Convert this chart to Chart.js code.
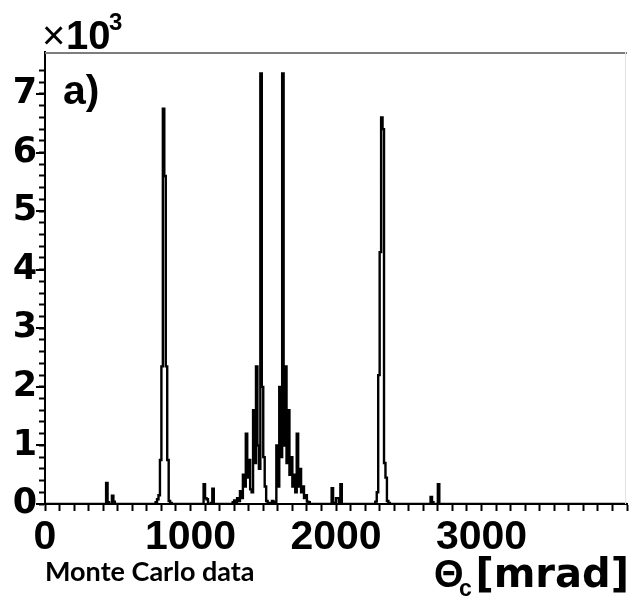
<!DOCTYPE html>
<html>
<head>
<meta charset="utf-8">
<title>Theta_c histogram</title>
<script src="https://cdn.jsdelivr.net/npm/chart.js@4.4.1/dist/chart.umd.min.js"></script>
<style>
  html, body { margin: 0; padding: 0; background: #fff; }
  #wrap { width: 629px; height: 597px; }
</style>
</head>
<body>
<div id="wrap"><canvas id="histChart" width="629" height="597"></canvas></div>
<script>
// ---------- Data (counts per 10 mrad bin) ----------
const binWidth = 10;
const xMax = 4000;
const yMax = 7717;

const sideLeftStart = 410;
const sideLeft = [0, 360, 30, 0, 0, 140, 40, 0];

const peakAStart = 760;
const peakA = [30, 80, 150, 750, 2350, 6750, 5600, 2350, 750, 50, 20, 0];

const sideMidLeftStart = 1080;
const sideMidLeft = [0, 340, 100, 80, 0, 0, 20, 260, 0];

const centralStart = 1290;
const central = [
  30, 60, 20, 100, 50, 220, 100, 500, 300, 1200,
  450, 750, 250, 200, 1600, 700, 2350, 1000, 600, 7350,
  2000, 800, 300, 50, 20, 10, 20, 50, 20, 30,
  1000, 300, 2000, 800, 7350, 1000, 2350, 700, 1600, 500,
  800, 300, 500, 200, 1200, 300, 600, 200, 300, 100,
  150, 40, 30, 0
];

const sideMidRightStart = 1960;
const sideMidRight = [0, 270, 20, 0, 100, 100, 30, 340, 0];

const peakBStart = 2270;
const peakB = [40, 200, 2200, 4300, 6600, 6400, 700, 450, 50, 20, 0];

const sideRightStart = 2640;
const sideRight = [0, 120, 30, 0, 0, 0, 340, 0];

const xTickStep = 100;
const xLabelStep = 1000;
const yTickStep = 200;
const yLabelStep = 1000;

// ---------- Build the histogram ----------
const counts = new Array(xMax / binWidth).fill(0);

function putCluster(start, values) {
  values.forEach((v, i) => {
    counts[start / binWidth + i] = v;
  });
}

putCluster(sideLeftStart, sideLeft);
putCluster(peakAStart, peakA);
putCluster(sideMidLeftStart, sideMidLeft);
putCluster(centralStart, central);
putCluster(sideMidRightStart, sideMidRight);
putCluster(peakBStart, peakB);
putCluster(sideRightStart, sideRight);

// one point per bin's left edge, step holds until the next edge
const points = counts.map((c, i) => ({ x: i * binWidth, y: c }));
points.push({ x: xMax, y: 0 });

// ---------- Extra drawing: frame, long ticks, texts ----------
const decorPlugin = {
  id: "decor",
  afterDraw(chart) {
    const { ctx, chartArea, scales } = chart;
    const y = scales.y;
    ctx.save();

    // top and right frame
    ctx.strokeStyle = "#7d7d7d";
    ctx.lineWidth = 2;
    ctx.beginPath();
    ctx.moveTo(chartArea.left, chartArea.top + 1);
    ctx.lineTo(chartArea.right, chartArea.top + 1);
    ctx.stroke();
    ctx.strokeStyle = "#e2e2e2";
    ctx.lineWidth = 1;
    ctx.beginPath();
    ctx.moveTo(chartArea.right - 1.5, chartArea.top);
    ctx.lineTo(chartArea.right - 1.5, chartArea.bottom);
    ctx.stroke();

    // longer ticks on the labelled y values
    ctx.strokeStyle = "#000";
    ctx.lineWidth = 2;
    for (let v = 0; v <= yMax; v += yLabelStep) {
      const py = Math.round(y.getPixelForValue(v));
      ctx.beginPath();
      ctx.moveTo(chartArea.left - 9, py);
      ctx.lineTo(chartArea.left, py);
      ctx.stroke();
    }

    ctx.fillStyle = "#000";
    ctx.textBaseline = "alphabetic";
    ctx.textAlign = "left";

    // x10^3 multiplier
    ctx.font = "40px 'Liberation Sans'";
    ctx.fillText("\u00d7", 42, 49);
    ctx.font = "bold 40px 'Liberation Sans'";
    ctx.fillText("10", 66, 49);
    ctx.font = "bold 24px 'Liberation Sans'";
    ctx.fillText("3", 109, 30);

    // panel label
    ctx.font = "bold 41px 'Liberation Sans'";
    ctx.fillText("a)", 63, 104);

    // caption
    ctx.font = "bold 27px Lato";
    ctx.fillText("Monte Carlo data", 45, 581);

    // axis title
    ctx.font = "bold 38px 'Liberation Sans'";
    ctx.fillText("\u0398", 434, 587);
    ctx.font = "bold 23px 'Liberation Sans'";
    ctx.fillText("c", 459, 596);
    ctx.textAlign = "right";
    ctx.font = "bold 40px 'DejaVu Sans'";
    ctx.fillText("[mrad]", 629, 587);

    ctx.restore();
  }
};

// ---------- Chart ----------
const ctx = document.getElementById("histChart").getContext("2d");

new Chart(ctx, {
  type: "line",
  data: {
    datasets: [
      {
        data: points,
        borderColor: "#000",
        borderWidth: 2.4,
        stepped: "before",
        pointRadius: 0,
        fill: false,
        tension: 0
      }
    ]
  },
  options: {
    responsive: false,
    animation: false,
    events: [],
    layout: { padding: { top: 52, left: 0, right: 0, bottom: 0 } },
    plugins: {
      legend: { display: false },
      tooltip: { enabled: false }
    },
    scales: {
      x: {
        type: "linear",
        min: 0,
        max: xMax,
        afterFit: (scale) => { scale.height = 93; },
        border: { display: true, color: "#000", width: 2 },
        grid: {
          drawOnChartArea: false,
          drawTicks: true,
          tickLength: 7,
          tickColor: "#000",
          tickWidth: 2
        },
        ticks: {
          stepSize: xTickStep,
          autoSkip: false,
          maxRotation: 0,
          minRotation: 0,
          padding: 2,
          color: "#000",
          font: { family: "'Liberation Sans'", size: 41, weight: "bold" },
          callback: (v) => (v % xLabelStep === 0 && v < xMax ? String(v) : "")
        }
      },
      y: {
        type: "linear",
        min: 0,
        max: yMax,
        afterFit: (scale) => { scale.width = 45; },
        border: { display: true, color: "#000", width: 2 },
        grid: {
          drawOnChartArea: false,
          drawTicks: true,
          tickLength: 6,
          tickWidth: 2,
          tickColor: (c) => (c.tick && c.tick.value % yTickStep === 0 ? "#000" : "rgba(0,0,0,0)")
        },
        ticks: {
          stepSize: yTickStep,
          autoSkip: false,
          padding: 2,
          color: "#000",
          font: { family: "'DejaVu Sans'", size: 35, weight: "bold" },
          callback: (v) => (v % yLabelStep === 0 ? String(v / 1000) : "")
        }
      }
    }
  },
  plugins: [decorPlugin]
});
</script>
</body>
</html>
